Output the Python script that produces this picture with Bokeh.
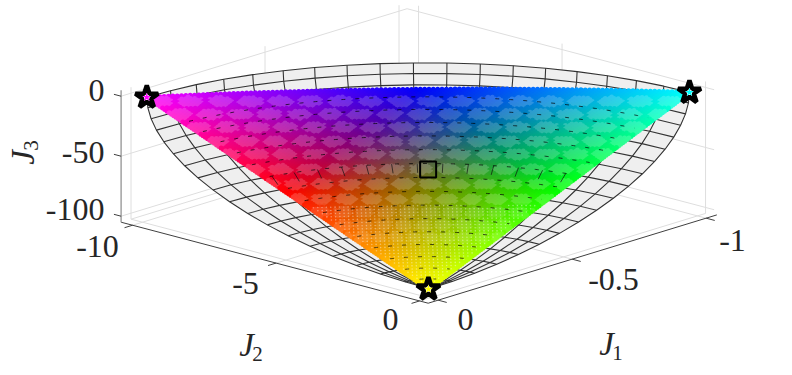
import numpy as np
from bokeh.plotting import figure
from bokeh.models import Range1d
from bokeh.core.properties import value
from bokeh.embed import file_html
from bokeh.resources import INLINE

# ---- values ----
J1_ticks = [0, -0.5, -1]
J1_labels = ["0", "-0.5", "-1"]
J2_ticks = [0, -5, -10]
J2_labels = ["0", "-5", "-10"]
J3_ticks = [0, -50, -100]
J3_labels = ["0", "-50", "-100"]
J1_lim = [-1.03, 0.037]
J2_lim = [-10.4, 0.3]
J3_lim = [-105, 5]
# anchors (stars): [J1, J2, J3]
star_left = [0.0, -9.85, 0.0]
star_right = [-0.97, 0.0, 0.0]
star_bottom = [0.004, 0.0, -97.4]
square_point = [-0.42, -3.97, -51.7]
# mesh levels counted from the picture: 18 x 18 cells of 5 degrees
lat_deg = [0, 5, 10, 15, 20, 25, 30, 35, 40, 45, 50, 55, 60, 65, 70, 75, 80, 85, 90]
az_deg = [0, 5, 10, 15, 20, 25, 30, 35, 40, 45, 50, 55, 60, 65, 70, 75, 80, 85, 90]
# light patches of the scatter: row heights and horizontal period (pixels of the frame)
patch_rows = [102, 115, 128, 142, 155, 170, 185, 200, 213, 226, 238]
patch_period = [30, 30, 29, 29, 29, 28, 27, 25, 22, 20, 17]


def px(j1, j2, j3):
    """Fitted view of the 3-D axes onto the frame."""
    j1, j2, j3 = np.asarray(j1, float), np.asarray(j2, float), np.asarray(j3, float)
    return 429 - 268 * j1 + 28.7 * j2, 297.4 + 82 * j1 + 7.57 * j2 - 1.2 * (j3 + 105)


p = figure(width=784, height=367, x_range=Range1d(0, 784), y_range=Range1d(367, 0),
           output_backend="svg", toolbar_location=None, min_border=0)
p.axis.visible = False
p.grid.visible = False
p.outline_line_color = None
p.background_fill_color = "white"


def seg(a, b, **kw):
    xa, ya = px(*a)
    xb, yb = px(*b)
    p.line([float(xa), float(xb)], [float(ya), float(yb)], **kw)


GRID = dict(line_color="#dedede", line_width=1)
j1a, j1b = J1_lim
j2a, j2b = J2_lim
j3a, j3b = J3_lim
for t in J3_ticks:
    seg([j1b, j2a, t], [j1a, j2a, t], **GRID)
    seg([j1a, j2a, t], [j1a, j2b, t], **GRID)
for t in J1_ticks:
    seg([t, j2a, j3a], [t, j2a, j3b], **GRID)
    seg([t, j2a, j3a], [t, j2b, j3a], **GRID)
for t in J2_ticks:
    seg([j1a, t, j3a], [j1a, t, j3b], **GRID)
    seg([j1a, t, j3a], [j1b, t, j3a], **GRID)
seg([0, j2a, j3a], [j1a, j2a, j3a], **GRID)

# Ellipsoid octant: a geometric model through the three star points, not a read series
lat = np.radians(lat_deg)
az = np.radians(az_deg)
LA, AZ = np.meshgrid(lat, az, indexing="ij")
MX = star_right[0] * np.cos(LA) * np.sin(AZ)
MY = star_left[1] * np.cos(LA) * np.cos(AZ)
MZ = star_bottom[2] * np.sin(LA)
SX, SY = px(MX, MY, MZ)

outline_x = list(SX[0, :]) + list(SX[:, -1]) + list(SX[::-1, 0])
outline_y = list(SY[0, :]) + list(SY[:, -1]) + list(SY[::-1, 0])
p.patch(outline_x, outline_y, fill_color="#efefef", line_color=None)
MESH = dict(line_color="#333333", line_width=1.1)
for i in range(len(lat_deg) - 1):
    p.line(SX[i, :], SY[i, :], **MESH)
for j in range(len(az_deg)):
    p.line(SX[:, j], SY[:, j], **MESH)

# Dense scatter: a regular lattice spanning the three star points; its dots are not
# individually readable, so positions and colours derive from the anchors.
N = 125
lx, ly = px(*star_left)
rx, ry = px(*star_right)
bx, by = px(*star_bottom)
xs, ys, cols = [], [], []
sx_, sy_ = [], []
for i in range(N + 1):
    for j in range(N + 1 - i):
        wb = i / N
        wr = j / N
        wl = 1 - wb - wr
        x = wl * lx + wr * rx + wb * bx
        y = wl * ly + wr * ry + wb * by - 22 * wl * wr
        r = max(0.0, 1 - 2 * wr)
        g = max(0.0, 1 - 2 * wl)
        b = max(0.0, 1 - 2 * wb)
        mix = 0.0
        for k, (ry0, per) in enumerate(zip(patch_rows, patch_period)):
            if abs(y - ry0) > 7:
                continue
            off = (x - 430) / per
            if k % 2:
                off += 0.35
            dx = (off - round(off)) * per
            if (dx / (0.42 * per)) ** 2 + ((y - ry0) / 5.6) ** 2 < 1:
                mix = 0.18 if y < 205 else 0.11
        r, g, b = r + (1 - r) * mix, g + (1 - g) * mix, b + (1 - b) * mix
        xs.append(float(x))
        ys.append(float(y))
        cols.append("#%02x%02x%02x" % (int(r * 255), int(g * 255), int(b * 255)))
        if y > 205 and i % 2 == 0 and 0 < j < N - i:
            sx_.append(float(x))
            sy_.append(float(y))
p.scatter(xs, ys, size=5.0, marker="circle", fill_color=cols, line_color=None)
p.scatter(sx_, sy_, size=1.6, marker="circle", fill_color="white", fill_alpha=0.4, line_color=None)

# mesh fragments that show through the scatter
def inside(x, y):
    d = (ry - by) * (lx - bx) + (bx - rx) * (ly - by)
    a = ((ry - by) * (x - bx) + (bx - rx) * (y - by)) / d
    c = ((by - ly) * (x - bx) + (lx - bx) * (y - by)) / d
    return a > 0.01 and c > 0.01 and 1 - a - c > -0.02


for i in range(3, len(lat_deg) - 1):
    fx, fy = [], []
    fine = np.radians(np.linspace(0, 90, 181))
    xa, ya = px(star_right[0] * np.cos(lat[i]) * np.sin(fine),
                star_left[1] * np.cos(lat[i]) * np.cos(fine),
                star_bottom[2] * np.sin(lat[i]) * np.ones_like(fine))
    for a, c in zip(xa, ya):
        fx.append(float(a) if inside(a, c) else np.nan)
        fy.append(float(c) if inside(a, c) else np.nan)
    p.line(fx, fy, line_color="#000000", line_width=1, line_dash="4 10", line_alpha=0.7)
for j in range(1, len(az_deg) - 1):
    if inside(SX[8, j], SY[8, j]):
        p.line([SX[8, j], (SX[8, j] + SX[9, j]) / 2], [SY[8, j], (SY[8, j] + 2 * SY[9, j]) / 3],
               line_color="#111111", line_width=1, line_alpha=0.7)

# axes
AX = dict(line_color="#404040", line_width=1)
seg([j1b, j2b, j3a], [j1a - 0.01, j2b, j3a], **AX)
seg([j1b, j2b, j3a], [j1b, j2a, j3a], **AX)
seg([j1b, j2a, j3a], [j1b, j2a, j3b], line_color="#9a9a9a", line_width=1.4)
for t in J1_ticks:
    seg([t, j2b, j3a], [t, j2b + 0.3, j3a], **AX)
for t in J2_ticks:
    seg([j1b, t, j3a], [j1b + 0.03, t, j3a], **AX)
for t in J3_ticks:
    seg([j1b, j2a, t], [j1b, j2a - 0.25, t], **AX)

# tick labels
FONT = value("Liberation Serif")
TXT = "#262626"
def label(x, y, s, size=32, anchor="center", style="normal", angle=0):
    p.text([x], [y], text=[s], text_font=FONT, text_font_size=value(f"{size}px"),
           text_color=TXT, text_align=anchor, text_baseline="middle",
           text_font_style=style, angle=angle)

for (x, y), s in zip([(104, 90), (104, 152), (104, 209)], J3_labels):
    label(x, y, s, anchor="right")
for (x, y), s in zip([(390, 319), (245, 283), (97, 246)], J2_labels):
    label(x, y, s)
for (x, y), s in zip([(465, 319), (613, 279), (732, 240)], J1_labels):
    label(x, y, s)
label(246, 344, "J", size=33, style="italic")
label(257, 353, "2", size=21)
label(606, 343, "J", size=33, style="italic")
label(617, 352, "1", size=21)
label(22, 157, "J", size=33, style="italic", angle=np.pi / 2)
label(30, 145, "3", size=21, angle=np.pi / 2)

# stars and square
star_cols = ["#ff00ff", "#00ffff", "#ffff00"]
for pt, c in zip([star_left, star_right, star_bottom], star_cols):
    sx, sy = px(*pt)
    p.scatter([float(sx)], [float(sy)], marker="star", size=24, fill_color="white",
              line_color="black", line_width=4.5)
    p.scatter([float(sx)], [float(sy)], marker="star", size=9, fill_color=c, line_color=None)
qx, qy = px(*square_point)
p.scatter([float(qx)], [float(qy)], marker="square", size=16, fill_color=None,
          line_color="black", line_width=2)

open("out.html", "w").write(file_html(p, INLINE))
